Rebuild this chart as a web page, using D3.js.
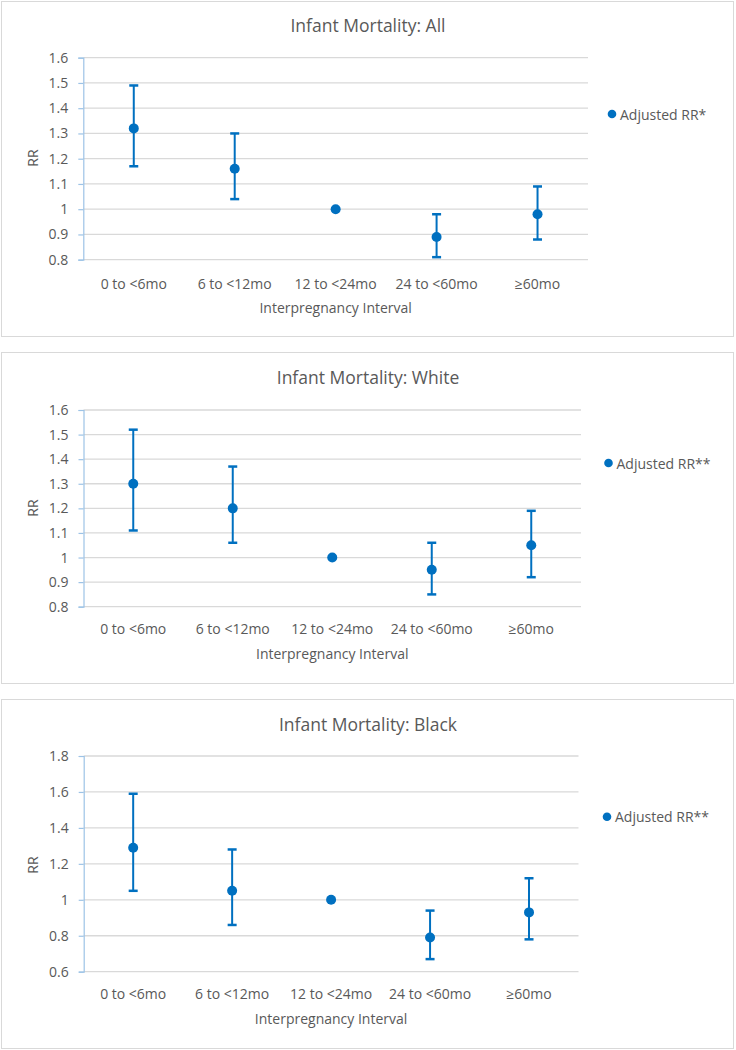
<!DOCTYPE html>
<html><head><meta charset="utf-8">
<script src="https://cdn.jsdelivr.net/npm/d3@7/dist/d3.min.js"></script>
<style>body{margin:0;background:#fff}svg{display:block}text{font-family:"Open Sans",sans-serif;fill:#595959}</style>
</head><body><svg id="c" width="736" height="1050"></svg>
<script>
const categories = ["0 to <6mo","6 to <12mo","12 to <24mo","24 to <60mo","\u226560mo"];
const allRR = [1.32,1.16,1.00,0.89,0.98];
const allLo = [1.17,1.04,null,0.81,0.88];
const allHi = [1.49,1.30,null,0.98,1.09];
const whiteRR = [1.30,1.20,1.00,0.95,1.05];
const whiteLo = [1.11,1.06,null,0.85,0.92];
const whiteHi = [1.52,1.37,null,1.06,1.19];
const blackRR = [1.29,1.05,1.00,0.79,0.93];
const blackLo = [1.05,0.86,null,0.67,0.78];
const blackHi = [1.59,1.28,null,0.94,1.12];
const titles = ["Infant Mortality: All","Infant Mortality: White","Infant Mortality: Black"];
const legendLabels = ["Adjusted RR*","Adjusted RR**","Adjusted RR**"];
const ticksA = [0.8,0.9,1,1.1,1.2,1.3,1.4,1.5,1.6];
const ticksB = [0.6,0.8,1,1.2,1.4,1.6,1.8];

const panels = [
 {rr:allRR,lo:allLo,hi:allHi,ticks:ticksA,dom:[0.8,1.6],box:[1,1,733,336],title:25,py:[57.7,259.7],px:[83.3,588],xl:283,xt:307,leg:[612,114],rr_y:158},
 {rr:whiteRR,lo:whiteLo,hi:whiteHi,ticks:ticksA,dom:[0.8,1.6],box:[1,352,733,683],title:377,py:[410,606.7],px:[83.5,581],xl:628,xt:653,leg:[608.5,463],rr_y:508},
 {rr:blackRR,lo:blackLo,hi:blackHi,ticks:ticksB,dom:[0.6,1.8],box:[1,699,733,1048],title:724,py:[756,971.7],px:[83.7,578.5],xl:993,xt:1018,leg:[607,816.7],rr_y:865}
];
const blue = "#0070C0";
const svg = d3.select("#c");
panels.forEach((p,i)=>{
  const g = svg.append("g");
  g.append("rect").attr("x",p.box[0]+0.5).attr("y",p.box[1]+0.5)
    .attr("width",p.box[2]-p.box[0]).attr("height",p.box[3]-p.box[1])
    .attr("fill","#fff").attr("stroke","#D9D9D9");
  g.append("text").attr("x",368).attr("y",p.title).attr("text-anchor","middle")
    .attr("dominant-baseline","central").style("font-size","17.5px").text(titles[i]);
  const y = d3.scaleLinear().domain(p.dom).range([p.py[1],p.py[0]]);
  const x = d3.scaleBand().domain(categories).range(p.px);
  g.append("g").selectAll("line").data(p.ticks).join("line")
    .attr("x1",p.px[0]).attr("x2",p.px[1]).attr("y1",d=>y(d)).attr("y2",d=>y(d))
    .attr("stroke","#D9D9D9").attr("stroke-width",1.3);
  const ya = g.append("g").attr("transform",`translate(${p.px[0]},0)`)
    .call(d3.axisLeft(y).tickValues(p.ticks).tickSize(5).tickPadding(10).tickFormat(d=>d3.format("")(+d.toFixed(1))));
  ya.select(".domain").attr("stroke","#9DC3E6").attr("stroke-width",1.2);
  ya.selectAll(".tick line").attr("stroke","#9DC3E6").attr("stroke-width",1.2);
  ya.selectAll(".tick text").style("font-size","14px").attr("fill","#595959").style("font-family","'Open Sans',sans-serif");
  const xa = g.append("g").attr("transform",`translate(0,${p.xl})`)
    .call(d3.axisBottom(x).tickSize(0).tickPadding(0));
  xa.select(".domain").remove();
  xa.selectAll(".tick text").attr("dy",null).attr("dominant-baseline","central")
    .style("font-size","14px").attr("fill","#595959").style("font-family","'Open Sans',sans-serif");
  g.append("text").attr("x",(p.px[0]+p.px[1])/2).attr("y",p.xt).attr("text-anchor","middle")
    .attr("dominant-baseline","central").style("font-size","14px").text("Interpregnancy Interval");
  g.append("text").attr("transform",`translate(32,${p.rr_y}) rotate(-90)`).attr("text-anchor","middle")
    .attr("dominant-baseline","central").style("font-size","14px").text("RR");
  const idx = d3.range(categories.length).filter(k=>p.lo[k]!=null);
  const cx = k=>x(categories[k])+x.bandwidth()/2;
  g.append("g").selectAll("line.v").data(idx).join("line")
    .attr("x1",cx).attr("x2",cx).attr("y1",k=>y(p.lo[k])).attr("y2",k=>y(p.hi[k]))
    .attr("stroke",blue).attr("stroke-width",2);
  ["lo","hi"].forEach(key=>{
    g.append("g").selectAll("line").data(idx).join("line")
      .attr("x1",k=>cx(k)-4.5).attr("x2",k=>cx(k)+4.5)
      .attr("y1",k=>y(p[key][k])).attr("y2",k=>y(p[key][k]))
      .attr("stroke",blue).attr("stroke-width",2.5);
  });
  g.append("g").selectAll("circle").data(d3.range(categories.length)).join("circle")
    .attr("cx",cx).attr("cy",k=>y(p.rr[k])).attr("r",5).attr("fill",blue);
  g.append("circle").attr("cx",p.leg[0]).attr("cy",p.leg[1]).attr("r",4.3).attr("fill",blue);
  g.append("text").attr("x",p.leg[0]+8).attr("y",p.leg[1]).attr("dominant-baseline","central")
    .style("font-size","14px").text(legendLabels[i]);
});
</script></body></html>
